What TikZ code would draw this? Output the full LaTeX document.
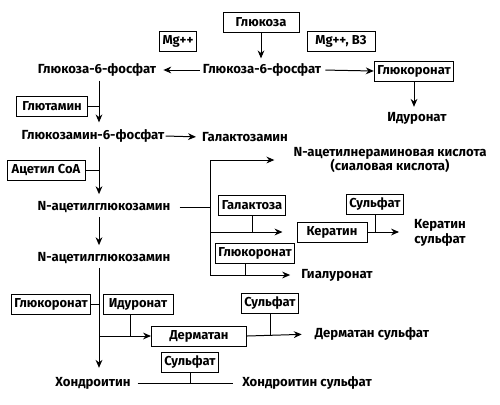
\documentclass[tikz,border=0pt]{standalone}
\usepackage{fontspec}
\setmainfont{Fira Sans}
\usepackage{tikz}
\usetikzlibrary{arrows.meta}
\tikzset{box/.style={
    draw, line width=1pt, inner xsep=3bp, inner ysep=0pt,
    minimum height=20bp, font=\fontsize{13}{14}\selectfont\bfseries
  },
  txt/.style={
    inner sep=1pt, font=\fontsize{13.2}{14.5}\selectfont\bfseries
  },
  arr/.style={
    -{Stealth[length=2.8mm,width=2.4mm]}, line width=1pt
  },
  ln/.style={
    line width=1pt
  }
}

\begin{document}
\begin{tikzpicture}[x=1bp,y=-1bp]
      \useasboundingbox (0,0) rectangle (500,404);
      \coordinate (ax) at (99,0);
      \coordinate (br) at (210,160);
      % top
      \node[box,minimum width=76bp] (glu) at (261,22) {Глюкоза};
      \node[box] (mga) at (178,41) {Mg++};
      \node[box,minimum width=68bp] (mgb) at (341,41) {Mg++, B3};
      \node[txt] (g6pl) at (97,70) {Глюкоза-6-фосфат};
      \node[txt] (g6pr) at (262,70) {Глюкоза-6-фосфат};
      \node[box] (gluca) at (414,71) {Глюкоронат};
      \node[txt] (idua) at (417,118) {Идуронат};
      \node[box,minimum width=71bp] (glut) at (52,106) {Глютамин};
      \node[txt] (gn6p) at (93,136) {Глюкозамин-6-фосфат};
      \node[txt] (galn) at (245,137) {Галактозамин};
      \node[box,minimum width=78bp] (acoa) at (46,170) {Ацетил CoA};
      % branch
      \node[txt] (naga) at (104,207) {N-ацетилглюкозамин};
      \node[txt,align=center] (neu) at (390,160) {N-ацетилнераминовая кислота\\(сиаловая кислота)};
      \node[box] (gal) at (252,205) {Галактоза};
      \node[box,minimum width=70bp] (ker) at (332,232) {Кератин};
      \node[box] (sulfa) at (375,204) {Сульфат};
      \node[txt,align=center] (kers) at (440,233) {Кератин\\сульфат};
      \node[box] (glucb) at (255,253) {Глюкоронат};
      \node[txt] (hya) at (337,275) {Гиалуронат};
      \node[txt] (nagb) at (104,258) {N-ацетилглюкозамин};
      % bottom
      \node[box] (glucc) at (51,304) {Глюкоронат};
      \node[box,minimum width=70bp] (idub) at (138,304) {Идуронат};
      \node[box,minimum width=95bp] (derm) at (199,336) {Дерматан};
      \node[box] (sulfb) at (270,303) {Сульфат};
      \node[txt] (derms) at (372,334) {Дерматан сульфат};
      \node[box] (sulfc) at (190,362) {Сульфат};
      \node[txt] (chon) at (93,383) {Хондроитин};
      \node[txt] (chons) at (307,383) {Хондроитин сульфат};
      % connectors
      \draw[arr,shorten >=4bp] (glu.south) -- (glu.south |- g6pr.north);
      \draw[arr,shorten <=2bp,shorten >=6bp] (g6pr.west) -- (g6pl.east);
      \draw[arr,shorten <=3bp] (g6pr.east) -- (gluca.west);
      \draw[arr,shorten >=4bp] (gluca.south) -- (idua.north -| gluca.south);
      \draw[arr,shorten <=3bp,shorten >=6bp] (g6pl.south -| ax) -- (gn6p.north -| ax);
      \draw[ln] (glut.east) -- (glut.east -| ax);
      \draw[arr,shorten >=5bp] (gn6p.east) -- (galn.west);
      \draw[arr,shorten <=3bp,shorten >=6bp] (gn6p.south -| ax) -- (naga.north -| ax);
      \draw[ln] (acoa.east) -- (acoa.east -| ax);
      \draw[ln,shorten <=8bp] (naga.east) -- (naga.east -| br);
      \draw[arr,shorten >=18bp] (br |- hya) -- (br) -- (br -| neu.west);
      \draw[arr,shorten >=14bp] (br |- ker) -- (ker.west);
      \draw[ln] (gal.south) -- (gal.south |- ker);
      \draw[arr,shorten >=14bp] (ker.east) -- (kers.west |- ker);
      \draw[ln] (sulfa.south) -- (sulfa.south |- ker);
      \draw[arr,shorten >=10bp] (br |- hya) -- (hya.west);
      \draw[ln] ([xshift=-10bp]glucb.south) -- ([xshift=-10bp]glucb.south |- hya);
      \draw[arr,shorten <=3bp,shorten >=6bp] (naga.south -| ax) -- (nagb.north -| ax);
      \draw[arr,shorten <=3bp,shorten >=8bp] (nagb.south -| ax) -- (chon.north -| ax);
      \draw[ln] (glucc.east) -- (glucc.east -| ax);
      \draw[arr] (derm.west -| ax) -- (derm.west);
      \draw[ln] ([xshift=-8bp]idub.south) -- ([xshift=-8bp]idub.south |- derm);
      \draw[arr,shorten >=12bp] (derm.east) -- (derms.west);
      \draw[ln] (sulfb.south) -- (sulfb.south |- derm);
      \draw[ln,shorten <=6bp,shorten >=8bp] (chon.east) -- (chons.west);
      \draw[ln] (sulfc.south) -- (sulfc.south |- chon);
    \end{tikzpicture}
\end{document}
